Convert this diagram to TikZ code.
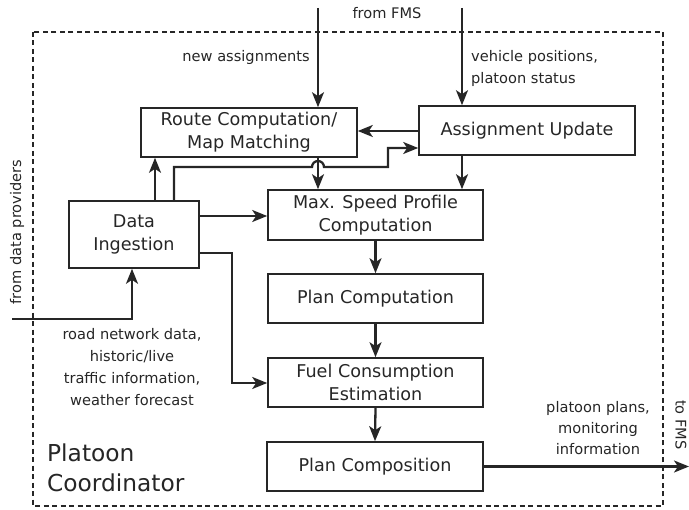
\documentclass[tikz,border=0pt]{standalone}
\usepackage{fontspec}
\setmainfont{DejaVu Sans}
\usetikzlibrary{arrows.meta}
\begin{document}
\begin{tikzpicture}[x=1bp,y=-1bp,
  blk/.style={draw=black!85,line width=1.6bp,inner sep=0pt,align=center,
    font=\fontsize{17.6bp}{23bp}\selectfont,text=black!85},
  arr/.style={line width=2.3bp,draw=black!85,-{Stealth[length=15bp,width=12bp,inset=4bp]}},
  lbl/.style={font=\fontsize{14.6bp}{22bp}\selectfont,text=black!85,inner sep=0pt},
  frame/.style={draw=black!85,line width=1.1bp,dash pattern=on 5bp off 3.5bp}]
\useasboundingbox (0,0) rectangle (689,510);
\draw[frame] (33,32) rectangle (663,506);
\node[blk,minimum width=216bp,minimum height=49bp] (route) at (249,132.5) {Route Computation/\\Map Matching};
\node[blk,minimum width=216bp,minimum height=49bp] (assign) at (527,130.5) {Assignment Update};
\node[blk,minimum width=215bp,minimum height=50bp] (maxs) at (375.5,215) {Max. Speed Profile\\Computation};
\node[blk,minimum width=130bp,minimum height=67bp] (data) at (134,234.5) {Data\\Ingestion};
\node[blk,minimum width=215bp,minimum height=49bp] (plan) at (375.5,298.5) {Plan Computation};
\node[blk,minimum width=215bp,minimum height=49bp] (fuel) at (375.5,382.5) {Fuel Consumption\\Estimation};
\node[blk,minimum width=216bp,minimum height=49bp] (comp) at (375,466.5) {Plan Composition};
% inputs from FMS
\coordinate (f1) at (318,8);
\coordinate (f2) at (462,8);
\draw[arr] (f1) -- (f1 |- route.north);
\draw[arr] (f2) -- (f2 |- assign.north);
\node[lbl] (fms) at (387,13) {from FMS};
\node[lbl,anchor=east] (na) at (310,57) {new assignments};
\node[lbl,anchor=west,align=left] (vp) at (471,68) {vehicle positions,\\platoon status};
% assignment -> route
\coordinate (a1) at (0,131);
\draw[arr] (assign.west |- a1) -- (route.east |- a1);
% data -> route
\coordinate (d1) at (155,0);
\draw[arr] (data.north -| d1) -- (route.south -| d1);
% data -> assignment with hop
\coordinate (d2) at (174,0);
\coordinate (h1) at (388,148);
\draw[arr] (data.north -| d2) -- (174,167) -- (312,167) arc[start angle=180,end angle=360,radius=6] -- (388,167) -- (h1) -- (assign.west |- h1);
% route -> maxs, assign -> maxs
\draw[arr] (route.south -| f1) -- (maxs.north -| f1);
\draw[arr] (assign.south -| f2) -- (maxs.north -| f2);
% data -> maxs
\coordinate (d3) at (0,216);
\draw[arr] (data.east |- d3) -- (maxs.west |- d3);
% data -> fuel
\coordinate (d4) at (0,253);
\coordinate (d5) at (0,383);
\draw[arr] (data.east |- d4) -- (232,253) -- (232,383) -- (fuel.west |- d5);
% chain
\draw[arr] (maxs.south) -- (plan.north);
\draw[arr] (plan.south) -- (fuel.north);
\draw[arr] (fuel.south) -- (comp.north);
% output
\coordinate (out) at (689,466.5);
\draw[arr] (comp.east) -- (out);
% from data providers
\coordinate (dp) at (12,319);
\coordinate (d6) at (132,0);
\draw[arr] (dp) -- (132,319) -- (data.south -| d6);
\node[lbl,rotate=90] (fdp) at (17,232) {from data providers};
\node[lbl,rotate=-90] (tf) at (681,425) {to FMS};
\node[lbl,align=center] (rn) at (132,367) {road network data,\\historic/live\\traffic information,\\weather forecast};
\node[lbl,align=center,font=\fontsize{14.6bp}{21bp}\selectfont] (pp) at (598,428) {platoon plans,\\monitoring\\information};
\node[inner sep=0pt,anchor=west,align=left,text=black!85,font=\fontsize{23.3bp}{30bp}\selectfont] (pc) at (47,468) {Platoon\\Coordinator};
\end{tikzpicture}
\end{document}
